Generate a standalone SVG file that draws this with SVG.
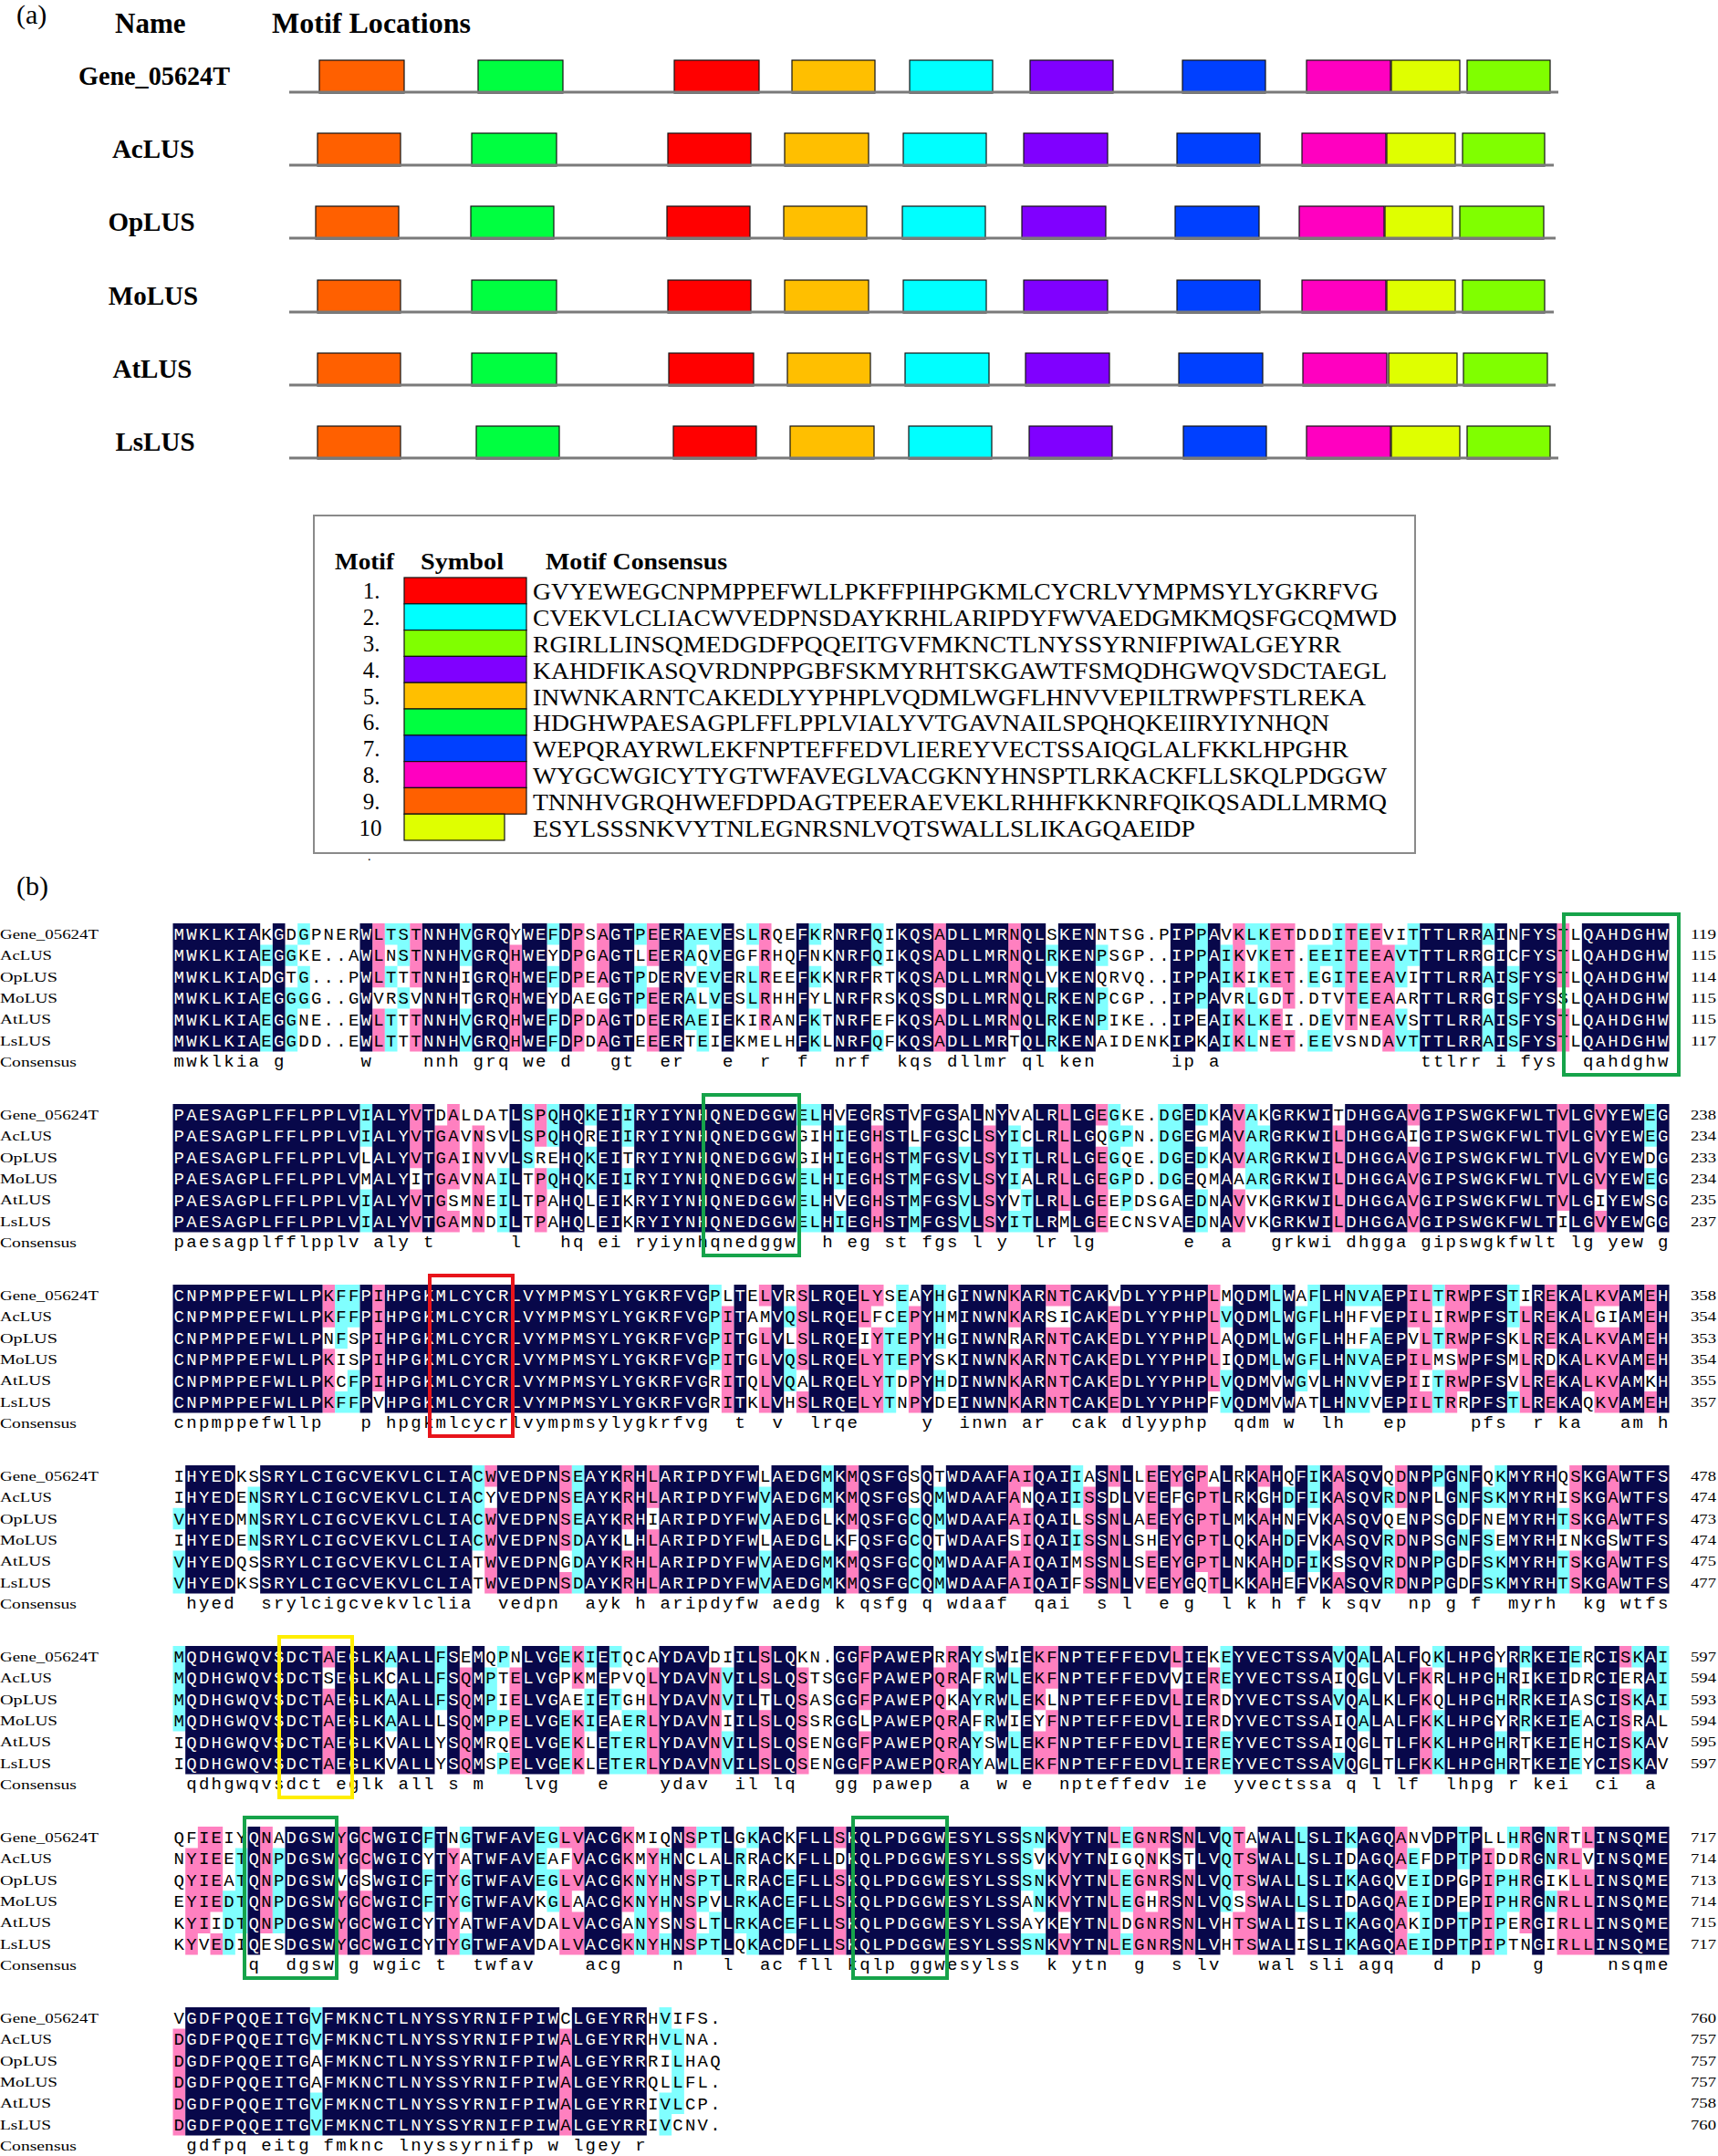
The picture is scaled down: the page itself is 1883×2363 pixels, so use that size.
<svg xmlns="http://www.w3.org/2000/svg" xmlns:xlink="http://www.w3.org/1999/xlink" width="1883" height="2363" viewBox="0 0 1883 2363">
<style>
.lbl{font-family:"Liberation Serif",serif;fill:#000}
.hd{font-family:"Liberation Serif",serif;font-weight:bold;fill:#000}
.m1{fill:#ff0000}.m2{fill:#00ffff}.m3{fill:#80ff00}.m4{fill:#8000ff}.m5{fill:#ffbf00}
.m6{fill:#00ff40}.m7{fill:#0040ff}.m8{fill:#ff00c0}.m9{fill:#ff6000}.m10{fill:#dfff00}
.mb rect{stroke:#111;stroke-width:1.2}
.ln{stroke:#7a7a7a;stroke-width:3}
.sq text,.cs{font-family:"Liberation Mono",monospace;font-size:19px;letter-spacing:2.265px;white-space:pre}
.nm text{font-family:"Liberation Serif",serif;font-size:15px}
.nv{fill:#08084a}.pk{fill:#ff80c0}.cy{fill:#80ffff}
.bx{fill:none;stroke-width:4}
</style>
<rect width="1883" height="2363" fill="#fff"/>

<!-- (a) -->
<g id="partA">
<text class="lbl" x="18" y="26" font-size="30">(a)</text>
<text class="hd" x="126" y="36" font-size="31">Name</text>
<text class="hd" x="298" y="36" font-size="31" textLength="218" lengthAdjust="spacingAndGlyphs">Motif Locations</text>
<g class="hd" font-size="29" text-anchor="middle">
<text x="169" y="93" textLength="166" lengthAdjust="spacingAndGlyphs">Gene_05624T</text>
<text x="168" y="173">AcLUS</text>
<text x="166" y="253">OpLUS</text>
<text x="168" y="334">MoLUS</text>
<text x="167" y="414">AtLUS</text>
<text x="170" y="494">LsLUS</text>
</g>
<g id="row1" class="mb">
<rect class="m9" x="350" y="66" width="93" height="36"/><rect class="m6" x="524" y="66" width="93" height="36"/><rect class="m1" x="739" y="66" width="93" height="36"/><rect class="m5" x="868" y="66" width="91" height="36"/><rect class="m2" x="997" y="66" width="91" height="36"/><rect class="m4" x="1129" y="66" width="91" height="36"/><rect class="m7" x="1296" y="66" width="91" height="36"/><rect class="m8" x="1432" y="66" width="92" height="36"/><rect class="m10" x="1525" y="66" width="75" height="36"/><rect class="m3" x="1608" y="66" width="91" height="36"/>
<line class="ln" x1="317" y1="101" x2="1708" y2="101"/>
</g>
<g id="row2" class="mb">
<rect class="m9" x="348" y="146" width="91" height="36"/><rect class="m6" x="517" y="146" width="93" height="36"/><rect class="m1" x="732" y="146" width="91" height="36"/><rect class="m5" x="860" y="146" width="92" height="36"/><rect class="m2" x="990" y="146" width="91" height="36"/><rect class="m4" x="1122" y="146" width="92" height="36"/><rect class="m7" x="1290" y="146" width="91" height="36"/><rect class="m8" x="1427" y="146" width="92" height="36"/><rect class="m10" x="1520" y="146" width="75" height="36"/><rect class="m3" x="1603" y="146" width="90" height="36"/>
<line class="ln" x1="317" y1="181" x2="1703" y2="181"/>
</g>
<g id="row3" class="mb">
<rect class="m9" x="346" y="226" width="91" height="36"/><rect class="m6" x="516" y="226" width="91" height="36"/><rect class="m1" x="731" y="226" width="91" height="36"/><rect class="m5" x="859" y="226" width="91" height="36"/><rect class="m2" x="989" y="226" width="91" height="36"/><rect class="m4" x="1120" y="226" width="92" height="36"/><rect class="m7" x="1288" y="226" width="92" height="36"/><rect class="m8" x="1424" y="226" width="93" height="36"/><rect class="m10" x="1518" y="226" width="74" height="36"/><rect class="m3" x="1600" y="226" width="92" height="36"/>
<line class="ln" x1="317" y1="261" x2="1705" y2="261"/>
</g>
<g id="row4" class="mb">
<rect class="m9" x="348" y="307" width="91" height="36"/><rect class="m6" x="517" y="307" width="93" height="36"/><rect class="m1" x="732" y="307" width="91" height="36"/><rect class="m5" x="860" y="307" width="92" height="36"/><rect class="m2" x="990" y="307" width="91" height="36"/><rect class="m4" x="1122" y="307" width="92" height="36"/><rect class="m7" x="1290" y="307" width="91" height="36"/><rect class="m8" x="1427" y="307" width="92" height="36"/><rect class="m10" x="1520" y="307" width="75" height="36"/><rect class="m3" x="1603" y="307" width="90" height="36"/>
<line class="ln" x1="317" y1="342" x2="1703" y2="342"/>
</g>
<g id="row5" class="mb">
<rect class="m9" x="348" y="387" width="91" height="36"/><rect class="m6" x="517" y="387" width="93" height="36"/><rect class="m1" x="733" y="387" width="93" height="36"/><rect class="m5" x="863" y="387" width="91" height="36"/><rect class="m2" x="992" y="387" width="92" height="36"/><rect class="m4" x="1124" y="387" width="92" height="36"/><rect class="m7" x="1292" y="387" width="92" height="36"/><rect class="m8" x="1428" y="387" width="92" height="36"/><rect class="m10" x="1522" y="387" width="75" height="36"/><rect class="m3" x="1604" y="387" width="92" height="36"/>
<line class="ln" x1="317" y1="422" x2="1705" y2="422"/>
</g>
<g id="row6" class="mb">
<rect class="m9" x="348" y="467" width="91" height="36"/><rect class="m6" x="522" y="467" width="91" height="36"/><rect class="m1" x="738" y="467" width="91" height="36"/><rect class="m5" x="866" y="467" width="92" height="36"/><rect class="m2" x="996" y="467" width="91" height="36"/><rect class="m4" x="1128" y="467" width="91" height="36"/><rect class="m7" x="1297" y="467" width="91" height="36"/><rect class="m8" x="1432" y="467" width="92" height="36"/><rect class="m10" x="1525" y="467" width="75" height="36"/><rect class="m3" x="1608" y="467" width="91" height="36"/>
<line class="ln" x1="317" y1="502" x2="1708" y2="502"/>
</g>
<g id="legend">
<rect x="344" y="565" width="1207" height="370" fill="none" stroke="#8a8a8a" stroke-width="2"/>
<text class="hd" x="367" y="624" font-size="26" textLength="65" lengthAdjust="spacingAndGlyphs">Motif</text>
<text class="hd" x="461" y="624" font-size="26" textLength="91" lengthAdjust="spacingAndGlyphs">Symbol</text>
<text class="hd" x="598" y="624" font-size="26" textLength="199" lengthAdjust="spacingAndGlyphs">Motif Consensus</text>
<g class="mb">
<rect class="m1" x="443" y="633" width="134" height="28.8"/>
<rect class="m2" x="443" y="661.8" width="134" height="28.8"/>
<rect class="m3" x="443" y="690.6" width="134" height="28.8"/>
<rect class="m4" x="443" y="719.4" width="134" height="28.8"/>
<rect class="m5" x="443" y="748.2" width="134" height="28.8"/>
<rect class="m6" x="443" y="777" width="134" height="28.8"/>
<rect class="m7" x="443" y="805.8" width="134" height="28.8"/>
<rect class="m8" x="443" y="834.6" width="134" height="28.8"/>
<rect class="m9" x="443" y="863.4" width="134" height="28.8"/>
<rect class="m10" x="443" y="892.2" width="110" height="28.8"/>
</g>
<g class="lbl" font-size="25" text-anchor="middle">
<text x="407" y="656">1.</text><text x="407" y="685">2.</text><text x="407" y="714">3.</text><text x="407" y="743">4.</text><text x="407" y="772">5.</text><text x="407" y="800">6.</text><text x="407" y="829">7.</text><text x="407" y="858">8.</text><text x="407" y="887">9.</text><text x="406" y="916">10</text>
</g>
<g class="lbl" font-size="26">
<text x="584" y="657" textLength="927" lengthAdjust="spacingAndGlyphs">GVYEWEGCNPMPPEFWLLPKFFPIHPGKMLCYCRLVYMPMSYLYGKRFVG</text>
<text x="584" y="686" textLength="947" lengthAdjust="spacingAndGlyphs">CVEKVLCLIACWVEDPNSDAYKRHLARIPDYFWVAEDGMKMQSFGCQMWD</text>
<text x="584" y="715" textLength="886" lengthAdjust="spacingAndGlyphs">RGIRLLINSQMEDGDFPQQEITGVFMKNCTLNYSSYRNIFPIWALGEYRR</text>
<text x="584" y="744" textLength="936" lengthAdjust="spacingAndGlyphs">KAHDFIKASQVRDNPPGBFSKMYRHTSKGAWTFSMQDHGWQVSDCTAEGL</text>
<text x="584" y="773" textLength="913" lengthAdjust="spacingAndGlyphs">INWNKARNTCAKEDLYYPHPLVQDMLWGFLHNVVEPILTRWPFSTLREKA</text>
<text x="584" y="801" textLength="873" lengthAdjust="spacingAndGlyphs">HDGHWPAESAGPLFFLPPLVIALYVTGAVNAILSPQHQKEIIRYIYNHQN</text>
<text x="584" y="830" textLength="894" lengthAdjust="spacingAndGlyphs">WEPQRAYRWLEKFNPTEFFEDVLIEREYVECTSSAIQGLALFKKLHPGHR</text>
<text x="584" y="859" textLength="936" lengthAdjust="spacingAndGlyphs">WYGCWGICYTYGTWFAVEGLVACGKNYHNSPTLRKACKFLLSKQLPDGGW</text>
<text x="584" y="888" textLength="936" lengthAdjust="spacingAndGlyphs">TNNHVGRQHWEFDPDAGTPEERAEVEKLRHHFKKNRFQIKQSADLLMRMQ</text>
<text x="584" y="917" textLength="726" lengthAdjust="spacingAndGlyphs">ESYLSSSNKVYTNLEGNRSNLVQTSWALLSLIKAGQAEIDP</text>
</g>
<text class="lbl" x="403" y="943" font-size="14">.</text>
</g>
</g>

<!-- (b) -->
<text class="lbl" x="18" y="981" font-size="30">(b)</text>

<g id="blk1" transform="translate(0 1012)">
<path class="pk" transform="translate(189.5 0) scale(13.667 23.4)" d="M16 0h1v3h-1zM16 4h1v2h-1zM19 0h1v3h-1zM19 4h1v2h-1zM27 1h1v5h-1zM32 0h1v3h-1zM32 4h1v2h-1zM34 0h1v3h-1zM34 4h1v2h-1zM38 0h1v2h-1zM38 3h1v3h-1zM47 0h1v5h-1zM61 0h1v3h-1zM61 4h1v2h-1zM67 0h1v5h-1zM85 0h1v3h-1zM85 4h1v2h-1zM88 0h1v3h-1zM88 4h1v2h-1zM89 0h1v4h-1zM89 5h1v1h-1zM94 0h1v5h-1zM96 0h1v5h-1zM97 1h1v5h-1zM111 0h1v3h-1zM111 4h1v2h-1z"/>
<path class="cy" transform="translate(189.5 0) scale(13.667 23.4)" d="M7 1h1v1h-1zM7 3h1v3h-1zM9 1h1v1h-1zM9 3h1v3h-1zM10 0h1v1h-1zM10 2h1v2h-1zM17 0h1v1h-1zM17 2h1v1h-1zM17 4h1v2h-1zM18 0h1v2h-1zM18 3h1v1h-1zM23 0h1v2h-1zM23 4h1v2h-1zM30 0h1v1h-1zM30 2h1v1h-1zM30 4h1v2h-1zM37 0h1v1h-1zM37 2h1v2h-1zM41 0h1v2h-1zM41 3h1v2h-1zM42 0h1v1h-1zM42 2h1v1h-1zM42 4h1v2h-1zM43 0h1v4h-1zM46 0h1v1h-1zM46 2h1v2h-1zM51 0h1v1h-1zM51 2h1v1h-1zM51 4h1v2h-1zM56 0h1v2h-1zM56 5h1v1h-1zM70 1h1v1h-1zM70 3h1v3h-1zM74 1h1v1h-1zM74 3h1v2h-1zM82 0h1v4h-1zM84 1h1v2h-1zM84 4h1v2h-1zM86 0h1v1h-1zM86 3h1v3h-1zM87 0h1v3h-1zM87 4h1v1h-1zM91 1h1v2h-1zM91 5h1v1h-1zM92 1h1v1h-1zM92 4h1v2h-1zM93 0h1v3h-1zM95 0h1v4h-1zM98 1h1v2h-1zM98 4h1v2h-1zM99 0h1v2h-1zM99 5h1v1h-1zM105 0h1v1h-1zM105 2h1v1h-1zM105 4h1v2h-1zM107 2h1v4h-1z"/>
<path id="n1" class="nv" transform="translate(189.5 0) scale(13.667 23.4)" d="M0 0h7v6h-7zM8 0h1v6h-1zM15 0h1v6h-1zM20 0h3v6h-3zM24 0h3v6h-3zM28 0h2v6h-2zM31 0h1v6h-1zM35 0h2v6h-2zM39 0h2v6h-2zM44 0h1v6h-1zM50 0h1v6h-1zM53 0h3v6h-3zM58 0h3v6h-3zM62 0h5v6h-5zM68 0h2v6h-2zM71 0h3v6h-3zM80 0h2v6h-2zM83 0h1v6h-1zM100 0h5v6h-5zM106 0h1v6h-1zM108 0h3v6h-3zM113 0h7v6h-7z"/>
<clipPath id="k1"><use href="#n1"/></clipPath>
<g id="s1" class="sq">
<text x="190.6" y="18">MWKLKIAKGDGPNERWLTSTNNHVGRQYWEFDPSAGTPEERAEVESLRQEFKRNRFQIKQSADLLMRNQLSKENNTSG.PIPPAVKLKETDDDITEEVITTTLRRAINFYSTLQAHDGHW</text>
<text x="190.6" y="41.4">MWKLKIAEGGKE..AWLNSTNNHVGRQHWEYDPGAGTLEERAQVEGFRHQFNKNRFQIKQSADLLMRNQLRKENPSGP..IPPAIKVKET.EEITEEAVTTTLRRGICFYSTLQAHDGHW</text>
<text x="190.6" y="64.8">MWKLKIADGTG...PWLTTTNNHIGRQHWEFDPEAGTPDERVEVERLREEFKKNRFRTKQSADLLMRNQLVKENQRVQ..IPPAIKIKET.EGITEEAVITTLRRAISFYSTLQAHDGHW</text>
<text x="190.6" y="88.2">MWKLKIAEGGGG..GWVRSVNNHTGRQHWEYDAEGGTPEERALVESLRHHFYLNRFRSKQSSDLLMRNQLRKENPCGP..IPPAVRLGDT.DTVTEEAARTTLRRGISFYSSLQAHDGHW</text>
<text x="190.6" y="111.6">MWKLKIAEGGNE..EWLTTTNNHVGRQHWEFDPDAGTDEERAEIEKIRANFKTNRFEFKQSADLLMRNQLRKENPIKE..IPEAIKLKEI.DEVTNEAVSTTLRRAISFYSTLQAHDGHW</text>
<text x="190.6" y="135">MWKLKIAEGGDD..EWLTTTNNHVGRQHWEFDPDAGTEEERTEIEKMELHFKLNRFQFKQSADLLMRTQLRKENAIDENKIPKAIKLNET.EEVSNDAVTTTLRRAISFYSTLQAHDGHW</text>
</g>
<use href="#s1" fill="#fff" clip-path="url(#k1)"/>
<text class="cs" x="190.6" y="157">mwklkia g      w    nnh grq we d   gt  er   e  r  f  nrf  kqs dllmr ql ken      ip a                ttlrr i fys  qahdghw</text>
<g class="nm">
<text x="0" y="16.7" textLength="108" lengthAdjust="spacingAndGlyphs">Gene_05624T</text>
<text x="0" y="40.1" textLength="57" lengthAdjust="spacingAndGlyphs">AcLUS</text>
<text x="0" y="63.5" textLength="63" lengthAdjust="spacingAndGlyphs">OpLUS</text>
<text x="0" y="86.9" textLength="63" lengthAdjust="spacingAndGlyphs">MoLUS</text>
<text x="0" y="110.3" textLength="56" lengthAdjust="spacingAndGlyphs">AtLUS</text>
<text x="0" y="133.7" textLength="56" lengthAdjust="spacingAndGlyphs">LsLUS</text>
<text x="0" y="157.1" textLength="84" lengthAdjust="spacingAndGlyphs">Consensus</text>
<text x="1853" y="16.7" textLength="28" lengthAdjust="spacingAndGlyphs">119</text>
<text x="1853" y="40.1" textLength="28" lengthAdjust="spacingAndGlyphs">115</text>
<text x="1853" y="63.5" textLength="28" lengthAdjust="spacingAndGlyphs">114</text>
<text x="1853" y="86.9" textLength="28" lengthAdjust="spacingAndGlyphs">115</text>
<text x="1853" y="110.3" textLength="28" lengthAdjust="spacingAndGlyphs">115</text>
<text x="1853" y="133.7" textLength="28" lengthAdjust="spacingAndGlyphs">117</text>
</g>
<rect class="bx" stroke="#16a34a" x="1714" y="-10" width="126" height="176"/>
</g>

<g id="blk2" transform="translate(0 1210)">
<path class="pk" transform="translate(189.5 0) scale(13.667 23.4)" d="M19 0h1v3h-1zM19 4h1v2h-1zM21 1h1v5h-1zM22 0h1v4h-1zM22 5h1v1h-1zM24 1h1v5h-1zM29 0h1v2h-1zM29 3h1v3h-1zM56 1h1v5h-1zM65 1h1v5h-1zM71 0h1v5h-1zM74 0h1v1h-1zM74 2h1v4h-1zM85 0h1v3h-1zM85 4h1v2h-1zM93 1h1v5h-1zM99 0h1v1h-1zM99 2h1v4h-1zM111 0h1v5h-1zM114 0h1v4h-1zM114 5h1v1h-1z"/>
<path class="cy" transform="translate(189.5 0) scale(13.667 23.4)" d="M15 0h1v2h-1zM15 4h1v2h-1zM26 3h1v3h-1zM28 0h1v3h-1zM30 0h1v2h-1zM30 3h1v1h-1zM33 0h1v1h-1zM33 2h1v2h-1zM36 0h1v2h-1zM36 3h1v1h-1zM50 0h1v1h-1zM50 3h1v3h-1zM51 0h1v1h-1zM51 3h1v3h-1zM53 1h1v3h-1zM53 5h1v1h-1zM59 2h1v4h-1zM63 2h1v4h-1zM67 1h1v3h-1zM67 5h1v1h-1zM68 2h1v1h-1zM68 4h1v2h-1zM75 0h1v4h-1zM76 1h1v1h-1zM76 3h1v2h-1zM79 0h1v4h-1zM80 0h1v4h-1zM82 0h1v1h-1zM82 2h1v1h-1zM82 4h1v2h-1zM86 0h1v4h-1zM87 1h1v3h-1zM118 0h1v2h-1zM118 3h1v1h-1z"/>
<path id="n2" class="nv" transform="translate(189.5 0) scale(13.667 23.4)" d="M0 0h15v6h-15zM16 0h3v6h-3zM20 0h1v6h-1zM27 0h1v6h-1zM31 0h2v6h-2zM34 0h2v6h-2zM37 0h13v6h-13zM52 0h1v6h-1zM54 0h2v6h-2zM57 0h2v6h-2zM60 0h3v6h-3zM64 0h1v6h-1zM66 0h1v6h-1zM69 0h2v6h-2zM72 0h2v6h-2zM81 0h1v6h-1zM84 0h1v6h-1zM88 0h5v6h-5zM94 0h5v6h-5zM100 0h11v6h-11zM112 0h2v6h-2zM115 0h3v6h-3zM119 0h1v6h-1z"/>
<clipPath id="k2"><use href="#n2"/></clipPath>
<g id="s2" class="sq">
<text x="190.6" y="18">PAESAGPLFFLPPLVIALYVTDALDATLSPQHQKEIIRYIYNHQNEDGGWELHVEGRSTVFGSALNYVALRLLGEGKE.DGEDKAVAKGRKWITDHGGAVGIPSWGKFWLTVLGVYEWEG</text>
<text x="190.6" y="41.4">PAESAGPLFFLPPLVIALYVTGAVNSVLSPQHQREIIRYIYNHQNEDGGWGIHIEGHSTLFGSCLSYICLRLLGQGPN.DGEGMAVARGRKWILDHGGAIGIPSWGKFWLTVLGVYEWEG</text>
<text x="190.6" y="64.8">PAESAGPLFFLPPLVLALYVTGAINVVLSREHQKEITRYIYNHQNEDGGWGIHIEGHSTMFGSVLSYITLRLLGEGQE.DGEDKAVARGRKWILDHGGAVGIPSWGKFWLTVLGVYEWDG</text>
<text x="190.6" y="88.2">PAESAGPLFFLPPLVMALYITGAVNAILTPQHQKEIIRYIYNHQNEDGGWELHIEGHSTMFGSVLSYIALRLLGEGPD.DGEQMAAARGRKWILDHGGAVGIPSWGKFWLTVLGVYEWEG</text>
<text x="190.6" y="111.6">PAESAGPLFFLPPLVIALYVTGSMNEILTPAHQLEIKRYIYNHQNEDGGWELHVEGHSTMFGSVLSYVTLRLLGEEPDSGAEDNAVVKGRKWILDHGGAVGIPSWGKFWLTVLGIYEWSG</text>
<text x="190.6" y="135">PAESAGPLFFLPPLVIALYVTGAMNDILTPAHQLEIKRYIYNHQNEDGGWELHIEGHSTMFGSVLSYITLRMLGEECNSVAEDNAVVKGRKWILDHGGAVGIPSWGKFWLTILGVYEWGG</text>
</g>
<use href="#s2" fill="#fff" clip-path="url(#k2)"/>
<text class="cs" x="190.6" y="157">paesagplfflpplv aly t      l   hq ei ryiynhqnedggw  h eg st fgs l y  lr lg       e  a   grkwi dhgga gipswgkfwlt lg yew g</text>
<g class="nm">
<text x="0" y="16.7" textLength="108" lengthAdjust="spacingAndGlyphs">Gene_05624T</text>
<text x="0" y="40.1" textLength="57" lengthAdjust="spacingAndGlyphs">AcLUS</text>
<text x="0" y="63.5" textLength="63" lengthAdjust="spacingAndGlyphs">OpLUS</text>
<text x="0" y="86.9" textLength="63" lengthAdjust="spacingAndGlyphs">MoLUS</text>
<text x="0" y="110.3" textLength="56" lengthAdjust="spacingAndGlyphs">AtLUS</text>
<text x="0" y="133.7" textLength="56" lengthAdjust="spacingAndGlyphs">LsLUS</text>
<text x="0" y="157.1" textLength="84" lengthAdjust="spacingAndGlyphs">Consensus</text>
<text x="1853" y="16.7" textLength="28" lengthAdjust="spacingAndGlyphs">238</text>
<text x="1853" y="40.1" textLength="28" lengthAdjust="spacingAndGlyphs">234</text>
<text x="1853" y="63.5" textLength="28" lengthAdjust="spacingAndGlyphs">233</text>
<text x="1853" y="86.9" textLength="28" lengthAdjust="spacingAndGlyphs">234</text>
<text x="1853" y="110.3" textLength="28" lengthAdjust="spacingAndGlyphs">235</text>
<text x="1853" y="133.7" textLength="28" lengthAdjust="spacingAndGlyphs">237</text>
</g>
<rect class="bx" stroke="#16a34a" x="771" y="-10" width="105" height="176"/>
</g>

<g id="blk3" transform="translate(0 1408)">
<path class="pk" transform="translate(189.5 0) scale(13.667 23.4)" d="M12 0h1v2h-1zM12 3h1v3h-1zM16 0h1v5h-1zM44 1h1v5h-1zM47 0h1v1h-1zM47 2h1v4h-1zM50 0h1v4h-1zM50 5h1v1h-1zM55 0h1v2h-1zM55 3h1v3h-1zM56 0h1v1h-1zM56 2h1v4h-1zM59 1h1v5h-1zM67 0h1v2h-1zM67 3h1v3h-1zM70 0h1v1h-1zM70 2h1v4h-1zM71 0h1v1h-1zM71 2h1v4h-1zM75 1h1v5h-1zM83 0h1v5h-1zM99 0h1v2h-1zM99 3h1v3h-1zM100 0h1v4h-1zM100 5h1v1h-1zM102 0h1v3h-1zM102 4h1v2h-1zM103 0h1v5h-1zM108 1h1v5h-1zM110 0h1v3h-1zM110 4h1v2h-1zM113 0h1v5h-1zM114 0h1v1h-1zM114 2h1v4h-1zM115 0h1v1h-1zM115 2h1v4h-1zM118 0h1v4h-1zM118 5h1v1h-1z"/>
<path class="cy" transform="translate(189.5 0) scale(13.667 23.4)" d="M13 0h1v3h-1zM13 5h1v1h-1zM14 0h1v2h-1zM14 4h1v2h-1zM43 0h1v4h-1zM49 1h1v1h-1zM49 3h1v2h-1zM57 2h1v4h-1zM58 0h1v4h-1zM61 0h1v3h-1zM61 4h1v1h-1zM84 1h1v1h-1zM84 4h1v2h-1zM88 0h1v4h-1zM90 1h1v4h-1zM91 0h1v4h-1zM94 0h1v1h-1zM94 3h1v3h-1zM95 0h1v1h-1zM95 3h1v3h-1zM96 0h1v1h-1zM96 2h1v2h-1zM101 0h1v1h-1zM101 2h1v1h-1zM101 4h1v2h-1zM107 0h1v2h-1zM107 5h1v1h-1z"/>
<path id="n3" class="nv" transform="translate(189.5 0) scale(13.667 23.4)" d="M0 0h12v6h-12zM15 0h1v6h-1zM17 0h26v6h-26zM45 0h1v6h-1zM48 0h1v6h-1zM51 0h4v6h-4zM60 0h1v6h-1zM63 0h4v6h-4zM68 0h2v6h-2zM72 0h3v6h-3zM76 0h7v6h-7zM85 0h3v6h-3zM89 0h1v6h-1zM92 0h2v6h-2zM97 0h2v6h-2zM104 0h3v6h-3zM109 0h1v6h-1zM111 0h2v6h-2zM116 0h2v6h-2zM119 0h1v6h-1z"/>
<clipPath id="k3"><use href="#n3"/></clipPath>
<g id="s3" class="sq">
<text x="190.6" y="18">CNPMPPEFWLLPKFFPIHPGKMLCYCRLVYMPMSYLYGKRFVGPLTELVRSLRQELYSEAYHGINWNKARNTCAKVDLYYPHPLMQDMLWAFLHNVAEPILTRWPFSTIREKALKVAMEH</text>
<text x="190.6" y="41.4">CNPMPPEFWLLPKFFPIHPGKMLCYCRLVYMPMSYLYGKRFVGPITAMVQSLRQELFCEPYHMINWNKARSICAKEDLYYPHPLVQDMLWGFLHHFVEPILIRWPFSTLREKALGIAMEH</text>
<text x="190.6" y="64.8">CNPMPPEFWLLPNFSPIHPGKMLCYCRLVYMPMSYLYGKRFVGPITGLVLSLRQEIYTEPYHGINWNRARNTCAKEDLYYPHPLAQDMLWGFLHHFAEPVLTRWPFSKLREKALKVAMEH</text>
<text x="190.6" y="88.2">CNPMPPEFWLLPKISPIHPGKMLCYCRLVYMPMSYLYGKRFVGPITGLVQSLRQELYTEPYSKINWNKARNTCAKEDLYYPHPLIQDMLWGFLHNVAEPILMSWPFSMLRDKALKVAMEH</text>
<text x="190.6" y="111.6">CNPMPPEFWLLPKCFPIHPGKMLCYCRLVYMPMSYLYGKRFVGRITQLVQALRQELYTDPYHDINWNKARNTCAKEDLYYPHPLVQDMVWGVLHNVVEPIITRWPFSVLREKALKVAMKH</text>
<text x="190.6" y="135">CNPMPPEFWLLPKFFPVHPGKMLCYCRLVYMPMSYLYGKRFVGRITKLVHSLRQELYTNPYDEINWNKARNTCAKEDLYYPHPFVQDMVWATLHNVVEPILTRRPFSTLREKAQKVAMEH</text>
</g>
<use href="#s3" fill="#fff" clip-path="url(#k3)"/>
<text class="cs" x="190.6" y="157">cnpmppefwllp   p hpgkmlcycrlvympmsylygkrfvg  t  v  lrqe     y  inwn ar  cak dlyyphp  qdm w  lh   ep     pfs  r ka   am h</text>
<g class="nm">
<text x="0" y="16.7" textLength="108" lengthAdjust="spacingAndGlyphs">Gene_05624T</text>
<text x="0" y="40.1" textLength="57" lengthAdjust="spacingAndGlyphs">AcLUS</text>
<text x="0" y="63.5" textLength="63" lengthAdjust="spacingAndGlyphs">OpLUS</text>
<text x="0" y="86.9" textLength="63" lengthAdjust="spacingAndGlyphs">MoLUS</text>
<text x="0" y="110.3" textLength="56" lengthAdjust="spacingAndGlyphs">AtLUS</text>
<text x="0" y="133.7" textLength="56" lengthAdjust="spacingAndGlyphs">LsLUS</text>
<text x="0" y="157.1" textLength="84" lengthAdjust="spacingAndGlyphs">Consensus</text>
<text x="1853" y="16.7" textLength="28" lengthAdjust="spacingAndGlyphs">358</text>
<text x="1853" y="40.1" textLength="28" lengthAdjust="spacingAndGlyphs">354</text>
<text x="1853" y="63.5" textLength="28" lengthAdjust="spacingAndGlyphs">353</text>
<text x="1853" y="86.9" textLength="28" lengthAdjust="spacingAndGlyphs">354</text>
<text x="1853" y="110.3" textLength="28" lengthAdjust="spacingAndGlyphs">355</text>
<text x="1853" y="133.7" textLength="28" lengthAdjust="spacingAndGlyphs">357</text>
</g>
<rect class="bx" stroke="#e8141b" x="471" y="-10" width="91" height="176"/>
</g>

<g id="blk4" transform="translate(0 1606)">
<path class="pk" transform="translate(189.5 0) scale(13.667 23.4)" d="M25 0h1v1h-1zM25 2h1v4h-1zM31 0h1v4h-1zM31 5h1v1h-1zM36 0h1v3h-1zM36 4h1v2h-1zM38 0h1v2h-1zM38 3h1v3h-1zM54 0h1v3h-1zM54 4h1v2h-1zM67 0h1v3h-1zM67 4h1v2h-1zM68 0h1v1h-1zM68 2h1v4h-1zM73 1h1v5h-1zM75 0h1v1h-1zM75 2h1v4h-1zM78 0h1v3h-1zM78 4h1v2h-1zM80 0h1v1h-1zM80 2h1v4h-1zM82 0h1v5h-1zM83 1h1v5h-1zM87 0h1v1h-1zM87 2h1v4h-1zM93 0h1v4h-1zM93 5h1v1h-1zM98 0h1v2h-1zM98 3h1v3h-1zM112 0h1v3h-1zM112 4h1v2h-1zM115 0h1v3h-1zM115 4h1v2h-1z"/>
<path class="cy" transform="translate(189.5 0) scale(13.667 23.4)" d="M0 2h1v1h-1zM0 4h1v2h-1zM6 1h1v3h-1zM24 0h1v4h-1zM32 0h1v6h-1zM47 1h1v2h-1zM47 4h1v2h-1zM52 0h1v2h-1zM52 4h1v2h-1zM59 2h1v4h-1zM61 1h1v2h-1zM61 4h1v2h-1zM72 0h1v2h-1zM72 3h1v1h-1zM89 1h1v1h-1zM89 3h1v2h-1zM91 0h1v2h-1zM91 4h1v1h-1zM97 1h1v1h-1zM97 3h1v3h-1zM101 0h1v1h-1zM101 4h1v2h-1zM103 0h1v2h-1zM103 3h1v1h-1zM105 1h1v1h-1zM105 3h1v3h-1zM106 0h1v2h-1zM106 4h1v2h-1zM111 2h1v1h-1zM111 4h1v2h-1z"/>
<path id="n4" class="nv" transform="translate(189.5 0) scale(13.667 23.4)" d="M1 0h4v6h-4zM7 0h17v6h-17zM26 0h5v6h-5zM33 0h3v6h-3zM37 0h1v6h-1zM39 0h8v6h-8zM48 0h4v6h-4zM53 0h1v6h-1zM55 0h4v6h-4zM60 0h1v6h-1zM62 0h5v6h-5zM69 0h3v6h-3zM74 0h1v6h-1zM76 0h1v6h-1zM79 0h1v6h-1zM81 0h1v6h-1zM84 0h1v6h-1zM86 0h1v6h-1zM88 0h1v6h-1zM90 0h1v6h-1zM92 0h1v6h-1zM94 0h3v6h-3zM99 0h2v6h-2zM102 0h1v6h-1zM104 0h1v6h-1zM107 0h4v6h-4zM113 0h2v6h-2zM116 0h4v6h-4z"/>
<clipPath id="k4"><use href="#n4"/></clipPath>
<g id="s4" class="sq">
<text x="190.6" y="18">IHYEDKSSRYLCIGCVEKVLCLIACWVEDPNSEAYKRHLARIPDYFWLAEDGMKMQSFGSQTWDAAFAIQAIIASNLLEEYGPALRKAHQFIKASQVQDNPPGNFQKMYRHQSKGAWTFS</text>
<text x="190.6" y="41.4">IHYEDENSRYLCIGCVEKVLCLIACYVEDPNSEAYKRHLARIPDYFWVAEDGMKMQSFGSQMWDAAFANQAIISSDLVEEFGPTLRKGHDFIKASQVRDNPLGNFSKMYRHISKGAWTFS</text>
<text x="190.6" y="64.8">VHYEDMNSRYLCIGCVEKVLCLIACWVEDPNSEAYKRHIARIPDYFWVAEDGLKMQSFGCQMWDAAFAIQAILSSNLAEEYGPTLMKAHNFVKASQVQENPSGDFNEMYRHTSKGAWTFS</text>
<text x="190.6" y="88.2">IHYEDENSRYLCIGCVEKVLCLIACWVEDPNSDAYKLHLARIPDYFWLAEDGLKFQSFGCQTWDAAFSIQAIISSNLSHEYGPTLQKAHDFVKASQVRDNPSGNFSEMYRHINKGSWTFS</text>
<text x="190.6" y="111.6">VHYEDQSSRYLCIGCVEKVLCLIATWVEDPNGDAYKRHLARIPDYFWVAEDGMKMQSFGCQMWDAAFAIQAIMSSNLSEEYGPTLNKAHDFIKSSQVRDNPPGDFSKMYRHTSKGAWTFS</text>
<text x="190.6" y="135">VHYEDKSSRYLCIGCVEKVLCLIATWVEDPNSDAYKRHLARIPDYFWVAEDGMKMQSFGCQMWDAAFAIQAIFSSNLVEEYGQTLKKAHEFVKASQVRDNPPGDFSKMYRHTSKGAWTFS</text>
</g>
<use href="#s4" fill="#fff" clip-path="url(#k4)"/>
<text class="cs" x="190.6" y="157"> hyed  srylcigcvekvlclia  vedpn  ayk h aripdyfw aedg k qsfg q wdaaf  qai  s l  e g  l k h f k sqv  np g f  myrh  kg wtfs</text>
<g class="nm">
<text x="0" y="16.7" textLength="108" lengthAdjust="spacingAndGlyphs">Gene_05624T</text>
<text x="0" y="40.1" textLength="57" lengthAdjust="spacingAndGlyphs">AcLUS</text>
<text x="0" y="63.5" textLength="63" lengthAdjust="spacingAndGlyphs">OpLUS</text>
<text x="0" y="86.9" textLength="63" lengthAdjust="spacingAndGlyphs">MoLUS</text>
<text x="0" y="110.3" textLength="56" lengthAdjust="spacingAndGlyphs">AtLUS</text>
<text x="0" y="133.7" textLength="56" lengthAdjust="spacingAndGlyphs">LsLUS</text>
<text x="0" y="157.1" textLength="84" lengthAdjust="spacingAndGlyphs">Consensus</text>
<text x="1853" y="16.7" textLength="28" lengthAdjust="spacingAndGlyphs">478</text>
<text x="1853" y="40.1" textLength="28" lengthAdjust="spacingAndGlyphs">474</text>
<text x="1853" y="63.5" textLength="28" lengthAdjust="spacingAndGlyphs">473</text>
<text x="1853" y="86.9" textLength="28" lengthAdjust="spacingAndGlyphs">474</text>
<text x="1853" y="110.3" textLength="28" lengthAdjust="spacingAndGlyphs">475</text>
<text x="1853" y="133.7" textLength="28" lengthAdjust="spacingAndGlyphs">477</text>
</g>
</g>

<g id="blk5" transform="translate(0 1804)">
<path class="pk" transform="translate(189.5 0) scale(13.667 23.4)" d="M12 0h1v1h-1zM12 2h1v4h-1zM23 1h1v5h-1zM27 1h1v5h-1zM32 0h1v2h-1zM32 3h1v3h-1zM38 1h1v5h-1zM43 1h1v5h-1zM47 0h1v2h-1zM47 3h1v3h-1zM50 1h1v5h-1zM55 0h1v3h-1zM55 4h1v2h-1zM61 1h1v5h-1zM62 0h1v2h-1zM62 3h1v3h-1zM69 0h1v3h-1zM69 4h1v2h-1zM70 0h1v2h-1zM70 3h1v3h-1zM80 0h1v1h-1zM80 2h1v4h-1zM83 1h1v5h-1zM100 1h1v5h-1zM116 0h1v1h-1zM116 2h1v4h-1z"/>
<path class="cy" transform="translate(189.5 0) scale(13.667 23.4)" d="M0 0h1v4h-1zM17 0h1v1h-1zM17 2h1v2h-1zM21 0h1v3h-1zM25 1h1v3h-1zM26 0h1v1h-1zM26 3h1v1h-1zM26 5h1v1h-1zM31 0h1v1h-1zM31 3h1v3h-1zM33 0h1v1h-1zM33 2h1v2h-1zM35 0h1v1h-1zM35 2h1v1h-1zM35 4h1v2h-1zM36 3h1v3h-1zM37 3h1v3h-1zM44 1h1v2h-1zM44 4h1v2h-1zM64 0h1v1h-1zM64 2h1v1h-1zM64 4h1v2h-1zM65 1h1v3h-1zM67 1h1v2h-1zM67 4h1v2h-1zM84 0h1v2h-1zM84 4h1v2h-1zM93 0h1v1h-1zM93 2h1v1h-1zM93 5h1v1h-1zM95 0h1v1h-1zM95 2h1v2h-1zM101 0h1v1h-1zM101 3h1v3h-1zM106 1h1v2h-1zM106 4h1v2h-1zM108 0h1v1h-1zM108 2h1v2h-1zM112 0h1v1h-1zM112 3h1v3h-1zM117 0h1v1h-1zM117 2h1v1h-1zM117 4h1v2h-1zM119 0h1v3h-1z"/>
<path id="n5" class="nv" transform="translate(189.5 0) scale(13.667 23.4)" d="M1 0h11v6h-11zM13 0h4v6h-4zM18 0h3v6h-3zM22 0h1v6h-1zM24 0h1v6h-1zM28 0h3v6h-3zM34 0h1v6h-1zM39 0h4v6h-4zM45 0h2v6h-2zM48 0h2v6h-2zM53 0h2v6h-2zM56 0h5v6h-5zM63 0h1v6h-1zM66 0h1v6h-1zM68 0h1v6h-1zM71 0h9v6h-9zM81 0h2v6h-2zM85 0h8v6h-8zM94 0h1v6h-1zM96 0h1v6h-1zM98 0h2v6h-2zM102 0h4v6h-4zM107 0h1v6h-1zM109 0h3v6h-3zM114 0h2v6h-2zM118 0h1v6h-1z"/>
<clipPath id="k5"><use href="#n5"/></clipPath>
<g id="s5" class="sq">
<text x="190.6" y="18">MQDHGWQVSDCTAEGLKAALLFSEMQPNLVGEKIETQCAYDAVDIILSLQKN.GGFPAWEPRRAYSWIEKFNPTEFFEDVLIEKEYVECTSSAVQALALFQKLHPGYRRKEIERCISKAI</text>
<text x="190.6" y="41.4">MQDHGWQVSDCTSEGLKCALLFSQMPTELVGPKMEPVQLYDAVNVILSLQSTSGGFPAWEPQRAFRWLEKFNPTEFFEDVVIEREYVECTSSAIQGLVLFKRLHPGHRIKEIDRCIERAI</text>
<text x="190.6" y="64.8">MQDHGWQVSDCTAEGLKAALLFSQMPIELVGAEIETGHLYDAVNVILTLQSASGGFPAWEPQKAYRWLEKLNPTEFFEDVLIERDYVECTSSAVQALKLFKQLHPGHRRKEIASCISKAI</text>
<text x="190.6" y="88.2">MQDHGWQVSDCTAEGLKAALLLSQMPPELVGEKIEAERLYDAVNIILSLQSSRGGLPAWEPQRAFRWIEYFNPTEFFEDVLIERDYVECTSSAIQALALFKKLHPGYRRKEIEACISRAL</text>
<text x="190.6" y="111.6">IQDHGWQVSDCTAEGLKVALLYSQMRQELVGEKLETERLYDAVNVILSLQSENGGFPAWEPQRAYSWLEKFNPTEFFEDVLIEREYVECTSSAIQGLTLFKKLHPGHRTKEIEHCISKAV</text>
<text x="190.6" y="135">IQDHGWQVSDCTAEGLKVALLYSQMSPELVGEKLETERLYDAVNVILSLQSENGGFPAWEPQRAYAWLEKFNPTEFFEDVLIEREYVECTSSAVQGLTLFKKLHPGHRTKEIEYCISKAV</text>
</g>
<use href="#s5" fill="#fff" clip-path="url(#k5)"/>
<text class="cs" x="190.6" y="157"> qdhgwqvsdct eglk all s m   lvg   e    ydav  il lq   gg pawep  a  w e  npteffedv ie  yvectssa q l lf  lhpg r kei  ci  a </text>
<g class="nm">
<text x="0" y="16.7" textLength="108" lengthAdjust="spacingAndGlyphs">Gene_05624T</text>
<text x="0" y="40.1" textLength="57" lengthAdjust="spacingAndGlyphs">AcLUS</text>
<text x="0" y="63.5" textLength="63" lengthAdjust="spacingAndGlyphs">OpLUS</text>
<text x="0" y="86.9" textLength="63" lengthAdjust="spacingAndGlyphs">MoLUS</text>
<text x="0" y="110.3" textLength="56" lengthAdjust="spacingAndGlyphs">AtLUS</text>
<text x="0" y="133.7" textLength="56" lengthAdjust="spacingAndGlyphs">LsLUS</text>
<text x="0" y="157.1" textLength="84" lengthAdjust="spacingAndGlyphs">Consensus</text>
<text x="1853" y="16.7" textLength="28" lengthAdjust="spacingAndGlyphs">597</text>
<text x="1853" y="40.1" textLength="28" lengthAdjust="spacingAndGlyphs">594</text>
<text x="1853" y="63.5" textLength="28" lengthAdjust="spacingAndGlyphs">593</text>
<text x="1853" y="86.9" textLength="28" lengthAdjust="spacingAndGlyphs">594</text>
<text x="1853" y="110.3" textLength="28" lengthAdjust="spacingAndGlyphs">595</text>
<text x="1853" y="133.7" textLength="28" lengthAdjust="spacingAndGlyphs">597</text>
</g>
<rect class="bx" stroke="#ffee00" x="306" y="-10" width="80" height="176"/>
</g>

<g id="blk6" transform="translate(0 2002)">
<path class="pk" transform="translate(189.5 0) scale(13.667 23.4)" d="M1 1h1v5h-1zM2 0h1v5h-1zM3 0h1v4h-1zM3 5h1v1h-1zM7 0h1v5h-1zM13 0h1v2h-1zM13 3h1v3h-1zM15 0h1v2h-1zM15 3h1v3h-1zM22 1h1v5h-1zM31 0h1v1h-1zM31 2h1v4h-1zM32 0h1v3h-1zM32 4h1v2h-1zM36 0h1v4h-1zM36 5h1v1h-1zM38 1h1v5h-1zM41 0h1v1h-1zM41 2h1v4h-1zM53 0h1v1h-1zM53 2h1v4h-1zM71 0h1v4h-1zM71 5h1v1h-1zM75 0h1v1h-1zM75 2h1v4h-1zM77 0h1v1h-1zM77 2h1v4h-1zM78 0h1v3h-1zM78 4h1v2h-1zM79 0h1v1h-1zM79 2h1v4h-1zM81 0h1v1h-1zM81 2h1v4h-1zM85 0h1v3h-1zM85 4h1v2h-1zM86 1h1v5h-1zM98 0h1v2h-1zM98 3h1v3h-1zM105 1h1v5h-1zM108 0h1v5h-1zM111 0h1v2h-1zM111 3h1v3h-1zM112 1h1v5h-1zM113 0h1v1h-1zM113 2h1v4h-1z"/>
<path class="cy" transform="translate(189.5 0) scale(13.667 23.4)" d="M4 3h1v3h-1zM5 1h1v4h-1zM8 1h1v4h-1zM20 0h1v1h-1zM20 2h1v2h-1zM23 0h1v1h-1zM23 2h1v2h-1zM23 5h1v1h-1zM29 0h1v3h-1zM30 0h1v1h-1zM30 2h1v2h-1zM37 2h1v4h-1zM39 1h1v3h-1zM39 5h1v1h-1zM42 0h1v1h-1zM42 2h1v2h-1zM42 5h1v1h-1zM43 0h1v1h-1zM43 2h1v1h-1zM43 4h1v2h-1zM45 1h1v4h-1zM46 0h1v1h-1zM46 3h1v3h-1zM49 2h1v3h-1zM68 0h1v3h-1zM68 5h1v1h-1zM69 0h1v1h-1zM69 2h1v2h-1zM69 5h1v1h-1zM76 0h1v1h-1zM76 2h1v2h-1zM76 5h1v1h-1zM84 0h1v4h-1zM90 0h1v4h-1zM94 0h1v1h-1zM94 2h1v1h-1zM94 4h1v2h-1zM99 1h1v3h-1zM99 5h1v1h-1zM100 2h1v4h-1zM103 0h1v2h-1zM103 4h1v2h-1zM106 2h1v4h-1zM107 0h1v1h-1zM107 2h1v2h-1zM110 0h1v2h-1zM110 3h1v1h-1z"/>
<path id="n6" class="nv" transform="translate(189.5 0) scale(13.667 23.4)" d="M6 0h1v6h-1zM9 0h4v6h-4zM14 0h1v6h-1zM16 0h4v6h-4zM21 0h1v6h-1zM24 0h5v6h-5zM33 0h3v6h-3zM40 0h1v6h-1zM44 0h1v6h-1zM47 0h2v6h-2zM50 0h3v6h-3zM54 0h14v6h-14zM70 0h1v6h-1zM72 0h3v6h-3zM80 0h1v6h-1zM82 0h2v6h-2zM87 0h3v6h-3zM91 0h3v6h-3zM95 0h3v6h-3zM101 0h2v6h-2zM104 0h1v6h-1zM109 0h1v6h-1zM114 0h6v6h-6z"/>
<clipPath id="k6"><use href="#n6"/></clipPath>
<g id="s6" class="sq">
<text x="190.6" y="18">QFIEIYQNADGSWYGCWGICFTNGTWFAVEGLVACGKMIQNSPTLGKACKFLLSKQLPDGGWESYLSSSNKVYTNLEGNRSNLVQTAWALLSLIKAGQANVDPTPLLHRGNRTLINSQME</text>
<text x="190.6" y="41.4">NYIEETQNPDGSWYGCWGICYTYATWFAVEAFVACGKMYHNCLALRRACKFLLDKQLPDGGWESYLSSSVKVYTNIGQNKSTLVQTSWALLSLIDAGQAEFDPTPIDDRGNRLVINSQME</text>
<text x="190.6" y="64.8">QYIEATQNPDGSWVGSWGICFTYGTWFAVEGLVACGKNYHNSPTLRRACEFLLSKQLPDGGWESYLSSSNKVYTNLEGNRSNLVQTSWALLSLIKAGQVEIDPGPIPHRGIKLLINSQME</text>
<text x="190.6" y="88.2">EYIEDTQNPDGSWYGCWGICFTYGTWFAVKGLAACGKNYHNSPVLRKACEFLLSKQLPDGGWESYLSSANKVYTNLEGHRSNLVQSSWALLSLIDAGQAEIDPEPIPHRGNRLLINSQME</text>
<text x="190.6" y="111.6">KYIIDTQNPDGSWYGCWGICYTYATWFAVDALVACGANYSNSLTLRKACEFLLSKQLPDGGWESYLSSAYKEYTNLDGNRSNLVHTSWALISLIKAGQAKIDPTPIPERGIRLLINSQME</text>
<text x="190.6" y="135">KYVEDIQESDGSWYGCWGICYTYGTWFAVDALVACGKNYHNSPTLQKACDFLLSKQLPDGGWESYLSSSNKVYTNLEGNRSNLVHTSWALISLIKAGQAEIDPTPIPTNGIRLLINSQME</text>
</g>
<use href="#s6" fill="#fff" clip-path="url(#k6)"/>
<text class="cs" x="190.6" y="157">      q  dgsw g wgic t  twfav    acg    n   l  ac fll kqlp ggwesylss  k ytn  g  s lv   wal sli agq   d  p    g     nsqme</text>
<g class="nm">
<text x="0" y="16.7" textLength="108" lengthAdjust="spacingAndGlyphs">Gene_05624T</text>
<text x="0" y="40.1" textLength="57" lengthAdjust="spacingAndGlyphs">AcLUS</text>
<text x="0" y="63.5" textLength="63" lengthAdjust="spacingAndGlyphs">OpLUS</text>
<text x="0" y="86.9" textLength="63" lengthAdjust="spacingAndGlyphs">MoLUS</text>
<text x="0" y="110.3" textLength="56" lengthAdjust="spacingAndGlyphs">AtLUS</text>
<text x="0" y="133.7" textLength="56" lengthAdjust="spacingAndGlyphs">LsLUS</text>
<text x="0" y="157.1" textLength="84" lengthAdjust="spacingAndGlyphs">Consensus</text>
<text x="1853" y="16.7" textLength="28" lengthAdjust="spacingAndGlyphs">717</text>
<text x="1853" y="40.1" textLength="28" lengthAdjust="spacingAndGlyphs">714</text>
<text x="1853" y="63.5" textLength="28" lengthAdjust="spacingAndGlyphs">713</text>
<text x="1853" y="86.9" textLength="28" lengthAdjust="spacingAndGlyphs">714</text>
<text x="1853" y="110.3" textLength="28" lengthAdjust="spacingAndGlyphs">715</text>
<text x="1853" y="133.7" textLength="28" lengthAdjust="spacingAndGlyphs">717</text>
</g>
<rect class="bx" stroke="#16a34a" x="268" y="-10" width="101" height="176"/>
<rect class="bx" stroke="#16a34a" x="935" y="-10" width="103" height="176"/>
</g>

<g id="blk7" transform="translate(0 2200)">
<path class="pk" transform="translate(189.5 0) scale(13.667 23.4)" d="M0 1h1v5h-1zM31 1h1v5h-1z"/>
<path class="cy" transform="translate(189.5 0) scale(13.667 23.4)" d="M11 0h1v2h-1zM11 4h1v2h-1zM39 0h1v2h-1zM39 4h1v2h-1zM40 1h1v4h-1z"/>
<path id="n7" class="nv" transform="translate(189.5 0) scale(13.667 23.4)" d="M1 0h10v6h-10zM12 0h19v6h-19zM32 0h6v6h-6z"/>
<clipPath id="k7"><use href="#n7"/></clipPath>
<g id="s7" class="sq">
<text x="190.6" y="18">VGDFPQQEITGVFMKNCTLNYSSYRNIFPIWCLGEYRRHVIFS.</text>
<text x="190.6" y="41.4">DGDFPQQEITGVFMKNCTLNYSSYRNIFPIWALGEYRRHVLNA.</text>
<text x="190.6" y="64.8">DGDFPQQEITGAFMKNCTLNYSSYRNIFPIWALGEYRRRILHAQ</text>
<text x="190.6" y="88.2">DGDFPQQEITGAFMKNCTLNYSSYRNIFPIWALGEYRRQLLFL.</text>
<text x="190.6" y="111.6">DGDFPQQEITGVFMKNCTLNYSSYRNIFPIWALGEYRRIVLCP.</text>
<text x="190.6" y="135">DGDFPQQEITGVFMKNCTLNYSSYRNIFPIWALGEYRRIVCNV.</text>
</g>
<use href="#s7" fill="#fff" clip-path="url(#k7)"/>
<text class="cs" x="190.6" y="157"> gdfpq eitg fmknc lnyssyrnifp w lgey r</text>
<g class="nm">
<text x="0" y="16.7" textLength="108" lengthAdjust="spacingAndGlyphs">Gene_05624T</text>
<text x="0" y="40.1" textLength="57" lengthAdjust="spacingAndGlyphs">AcLUS</text>
<text x="0" y="63.5" textLength="63" lengthAdjust="spacingAndGlyphs">OpLUS</text>
<text x="0" y="86.9" textLength="63" lengthAdjust="spacingAndGlyphs">MoLUS</text>
<text x="0" y="110.3" textLength="56" lengthAdjust="spacingAndGlyphs">AtLUS</text>
<text x="0" y="133.7" textLength="56" lengthAdjust="spacingAndGlyphs">LsLUS</text>
<text x="0" y="157.1" textLength="84" lengthAdjust="spacingAndGlyphs">Consensus</text>
<text x="1853" y="16.7" textLength="28" lengthAdjust="spacingAndGlyphs">760</text>
<text x="1853" y="40.1" textLength="28" lengthAdjust="spacingAndGlyphs">757</text>
<text x="1853" y="63.5" textLength="28" lengthAdjust="spacingAndGlyphs">757</text>
<text x="1853" y="86.9" textLength="28" lengthAdjust="spacingAndGlyphs">757</text>
<text x="1853" y="110.3" textLength="28" lengthAdjust="spacingAndGlyphs">758</text>
<text x="1853" y="133.7" textLength="28" lengthAdjust="spacingAndGlyphs">760</text>
</g>
</g>
</svg>
